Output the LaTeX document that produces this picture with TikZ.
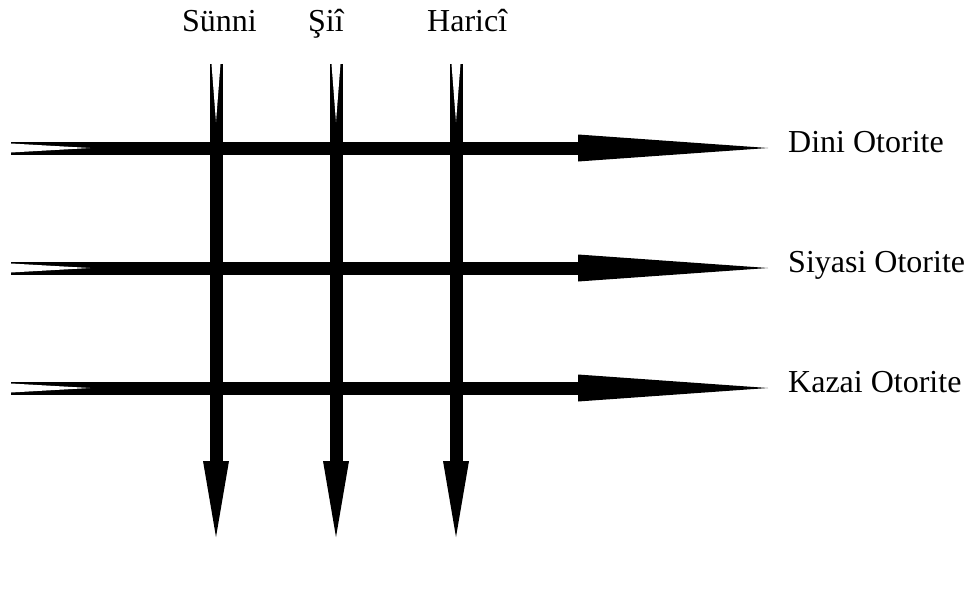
\documentclass[tikz,border=0pt]{standalone}
\usepackage{fontspec}
\setmainfont{Liberation Serif}
\usetikzlibrary{arrows.meta,positioning,calc}

\begin{document}
\begin{tikzpicture}[x=1pt,y=-1pt,font=\fontsize{32}{38}\selectfont,
    hline/.style={line width=13pt,-{Triangle[length=190pt,width=27pt,line width=0pt]}},
    vline/.style={line width=13pt,-{Triangle[length=76pt,width=26pt,line width=0pt]}},
    lbl/.style={inner sep=0pt,anchor=base west}]
  \useasboundingbox (0,0) rectangle (973,599);
  % column labels
  \node[lbl] (sunni)  at (182,32) {Sünni};
  \node[lbl] (sii)    at (308,32) {Şiî};
  \node[lbl] (harici) at (427,32) {Haricî};
  % row labels
  \node[lbl] (dini)   at (788,152) {Dini Otorite};
  \node[lbl] (siyasi) at (788,272) {Siyasi Otorite};
  \node[lbl] (kazai)  at (788,392) {Kazai Otorite};
  % horizontal arrows
  \foreach \y/\name in {148/dini,268/siyasi,388/kazai}{
    \coordinate (\name-s) at (11,\y);
    \coordinate (\name-e) at (768,\y);
    \draw[hline] (\name-s) -- (\name-e);
    \fill[white] ($(\name-s)+(0,-4.5)$) -- ($(\name-s)+(79,0)$) -- ($(\name-s)+(0,4.5)$) -- cycle;
  }
  % vertical arrows
  \foreach \x/\name in {216/sunni,336/sii,456/harici}{
    \coordinate (\name-s) at (\x,64);
    \coordinate (\name-e) at (\x,537);
    \draw[vline] (\name-s) -- (\name-e);
    \fill[white] ($(\name-s)+(-4.5,0)$) -- ($(\name-s)+(0,58)$) -- ($(\name-s)+(4.5,0)$) -- cycle;
  }
\end{tikzpicture}
\end{document}
